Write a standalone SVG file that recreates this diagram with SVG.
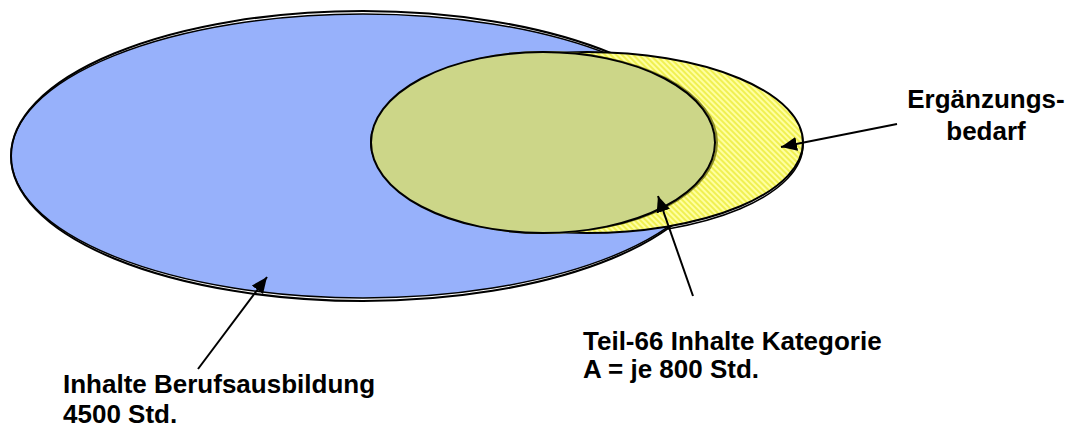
<svg xmlns="http://www.w3.org/2000/svg" width="1073" height="428" viewBox="0 0 1073 428">
  <style>
    .lbl { font-family: "Liberation Sans", Arial, sans-serif; font-weight: bold; font-size: 26px; fill: #000; }
    .con { stroke: #000; stroke-width: 2; fill: none; }
  </style>
  <defs>
    <pattern id="hatch" patternUnits="userSpaceOnUse" width="4" height="4" patternTransform="rotate(-45)">
      <rect width="4" height="4" fill="#ffffa0"/>
      <rect width="2" height="4" fill="#f0f052"/>
    </pattern>
    <clipPath id="rightPart">
      <rect x="668" y="0" width="405" height="428"/>
    </clipPath>
    <marker id="arr" markerUnits="userSpaceOnUse" markerWidth="18" markerHeight="16" refX="16" refY="7" orient="auto">
      <path d="M0,0 L16,7 L0,14 Z" fill="#000"/>
    </marker>
  </defs>
  <rect width="1073" height="428" fill="#fff"/>

  <g id="berufsausbildung">
    <ellipse cx="363" cy="156" rx="352" ry="142" fill="#97b1fb" stroke="#000" stroke-width="1.5"/>
    <ellipse cx="363" cy="156" rx="352" ry="145" fill="none" stroke="#000" stroke-width="2"/>
  </g>

  <g id="ergaenzungsbedarf">
    <ellipse cx="587" cy="145" rx="216" ry="90.5" fill="none" stroke="#000" stroke-width="1.5" clip-path="url(#rightPart)"/>
    <ellipse cx="587" cy="142.5" rx="216" ry="90.5" fill="url(#hatch)" stroke="#000" stroke-width="2"/>
  </g>

  <g id="teil66">
    <ellipse cx="545" cy="142.5" rx="172" ry="90.5" fill="none" stroke="#8c8c28" stroke-width="2"/>
    <ellipse cx="543" cy="142.5" rx="172" ry="90.5" fill="#ccd688" stroke="#000" stroke-width="2"/>
  </g>

  <g id="connectors">
    <line class="con" x1="897" y1="124" x2="781" y2="147" marker-end="url(#arr)"/>
    <line class="con" x1="693" y1="296" x2="658" y2="196" marker-end="url(#arr)"/>
    <line class="con" x1="198" y1="369" x2="267" y2="277" marker-end="url(#arr)"/>
  </g>

  <g id="labels">
    <text class="lbl" x="986" y="108" text-anchor="middle">Ergänzungs-</text>
    <text class="lbl" x="986" y="140" text-anchor="middle">bedarf</text>
    <text class="lbl" x="583" y="350">Teil-66 Inhalte Kategorie</text>
    <text class="lbl" x="583" y="378">A = je 800 Std.</text>
    <text class="lbl" x="63" y="393">Inhalte Berufsausbildung</text>
    <text class="lbl" x="63" y="423">4500 Std.</text>
  </g>
</svg>
